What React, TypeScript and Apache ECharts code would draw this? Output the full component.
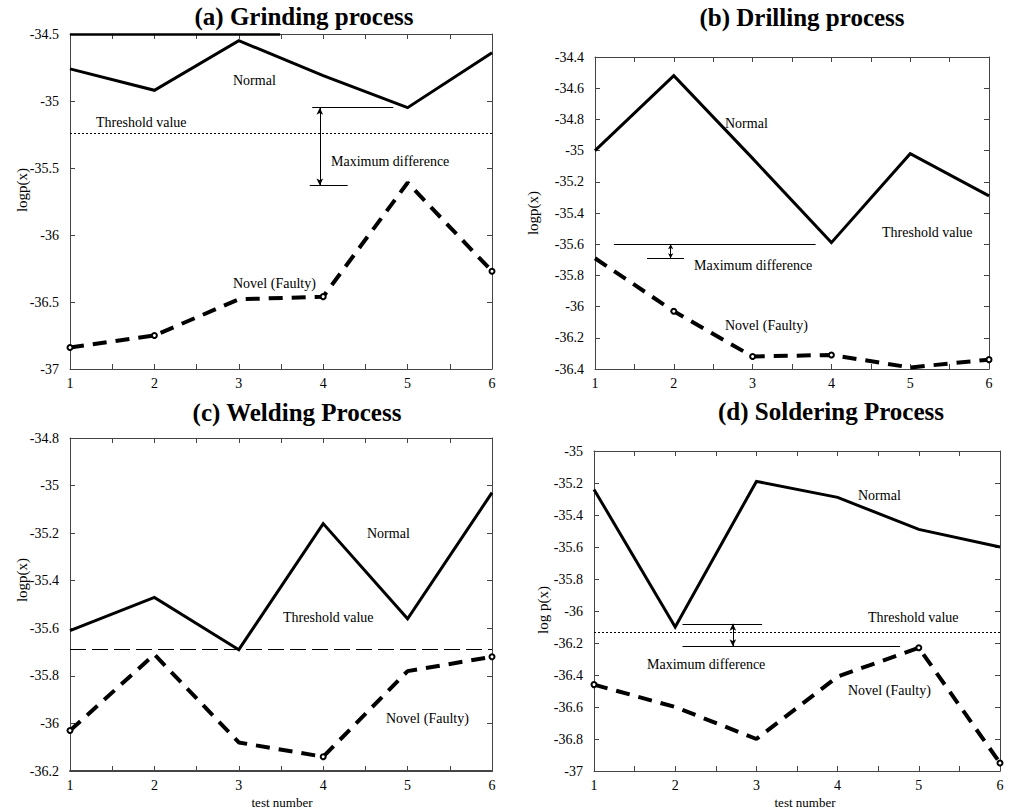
import React, { useEffect, useRef } from "react";
import * as echarts from "echarts";

const testNumbers = [1, 2, 3, 4, 5, 6];

const grindingNormal = [-34.76, -34.92, -34.55, -34.81, -35.05, -34.64];
const grindingNovel = [-36.84, -36.75, -36.48, -36.46, -35.61, -36.27];
const drillingNormal = [-35.0, -34.52, -35.05, -35.59, -35.02, -35.29];
const drillingNovel = [-35.69, -36.03, -36.32, -36.31, -36.39, -36.34];
const weldingNormal = [-35.61, -35.47, -35.69, -35.16, -35.56, -35.03];
const weldingNovel = [-36.03, -35.71, -36.08, -36.14, -35.78, -35.72];
const solderingNormal = [-35.24, -36.1, -35.19, -35.29, -35.49, -35.6];
const solderingNovel = [-36.46, -36.6, -36.8, -36.41, -36.23, -36.95];

const grindingThreshold = -35.24;
const weldingThreshold = -35.69;
const solderingThreshold = -36.13;

// maximum-difference annotation levels [upper, lower]
const grindingDiff = [-35.05, -35.63];
const drillingDiff = [-35.6, -35.69];
const solderingDiff = [-36.08, -36.22];

const FONT = "Liberation Serif";

type Panel = {
  title: string;
  titlePos: [number, number];
  grid: { left: number; top: number; width: number; height: number };
  yMin: number;
  yMax: number;
  yInt: number;
  normal: number[];
  novel: number[];
  novelMarks: number[];
  yName: string;
  yNamePos: [number, number];
  xName?: [number, number];
  labels: { text: string; x: number; y: number }[];
  markLines: any[];
  bottomWidth?: number;
};

const seg = (x1: number, y1: number, x2: number, y2: number, extra: any = {}) => [
  { coord: [x1, y1], ...extra },
  { coord: [x2, y2] },
];

const thinLine = { color: "#000", width: 1, type: "solid" };

const panels: Panel[] = [
  {
    title: "(a) Grinding process",
    titlePos: [304, 16],
    grid: { left: 70, top: 34, width: 422, height: 335 },
    yMin: -37,
    yMax: -34.5,
    yInt: 0.5,
    normal: grindingNormal,
    novel: grindingNovel,
    novelMarks: [0, 1, 3, 5],
    yName: "logp(x)",
    yNamePos: [22, 190],
    labels: [
      { text: "Normal", x: 233, y: 80 },
      { text: "Threshold value", x: 96, y: 122 },
      { text: "Maximum difference", x: 331, y: 161 },
      { text: "Novel (Faulty)", x: 233, y: 283 },
    ],
    markLines: [
      { data: [seg(1, -34.5, 3.49, -34.5)], lineStyle: { color: "#000", width: 2.5, type: "solid" } },
      {
        data: [seg(testNumbers[0], grindingThreshold, testNumbers[5], grindingThreshold)],
        lineStyle: { color: "#000", width: 1, type: [2, 2] },
      },
      {
        data: [seg(3.87, grindingDiff[0], 4.83, grindingDiff[0]), seg(3.84, grindingDiff[1], 4.29, grindingDiff[1])],
        lineStyle: thinLine,
      },
      {
        data: [seg(3.96, grindingDiff[0], 3.96, grindingDiff[1])],
        lineStyle: thinLine,
        symbol: ["arrow", "arrow"],
        symbolSize: [5, 7],
      },
    ],
  },
  {
    title: "(b) Drilling process",
    titlePos: [802, 17],
    grid: { left: 595, top: 57, width: 394, height: 312 },
    yMin: -36.4,
    yMax: -34.4,
    yInt: 0.2,
    normal: drillingNormal,
    novel: drillingNovel,
    novelMarks: [1, 2, 3, 5],
    yName: "logp(x)",
    yNamePos: [533, 213],
    labels: [
      { text: "Normal", x: 725, y: 123 },
      { text: "Threshold value", x: 882, y: 232 },
      { text: "Maximum difference", x: 694, y: 265 },
      { text: "Novel (Faulty)", x: 725, y: 325 },
    ],
    markLines: [
      {
        data: [seg(1.24, drillingDiff[0], 3.8, drillingDiff[0]), seg(1.66, drillingDiff[1], 2.13, drillingDiff[1])],
        lineStyle: thinLine,
      },
      {
        data: [seg(1.96, drillingDiff[0], 1.96, drillingDiff[1])],
        lineStyle: thinLine,
        symbol: ["arrow", "arrow"],
        symbolSize: [4, 5],
      },
    ],
  },
  {
    title: "(c) Welding Process",
    titlePos: [297, 412],
    grid: { left: 70, top: 438, width: 422, height: 333 },
    yMin: -36.2,
    yMax: -34.8,
    yInt: 0.2,
    normal: weldingNormal,
    novel: weldingNovel,
    novelMarks: [0, 3, 5],
    yName: "logp(x)",
    yNamePos: [22, 580],
    xName: [282, 802],
    bottomWidth: 2,
    labels: [
      { text: "Normal", x: 367, y: 533 },
      { text: "Threshold value", x: 283, y: 617 },
      { text: "Novel (Faulty)", x: 386, y: 718 },
    ],
    markLines: [
      {
        data: [seg(testNumbers[0], weldingThreshold, testNumbers[5], weldingThreshold)],
        lineStyle: { color: "#000", width: 1, type: [16, 6] },
      },
    ],
  },
  {
    title: "(d) Soldering Process",
    titlePos: [831, 411],
    grid: { left: 594, top: 451, width: 406, height: 320 },
    yMin: -37,
    yMax: -35,
    yInt: 0.2,
    normal: solderingNormal,
    novel: solderingNovel,
    novelMarks: [0, 4, 5],
    yName: "log p(x)",
    yNamePos: [543, 610],
    xName: [805, 802],
    labels: [
      { text: "Normal", x: 858, y: 495 },
      { text: "Threshold value", x: 868, y: 617 },
      { text: "Maximum difference", x: 647, y: 664 },
      { text: "Novel (Faulty)", x: 848, y: 690 },
    ],
    markLines: [
      {
        data: [seg(testNumbers[0], solderingThreshold, testNumbers[5], solderingThreshold)],
        lineStyle: { color: "#000", width: 1, type: [2, 2] },
      },
      {
        data: [seg(2.09, solderingDiff[0], 3.07, solderingDiff[0]), seg(2.09, solderingDiff[1], 4.77, solderingDiff[1])],
        lineStyle: thinLine,
      },
      {
        data: [seg(2.71, solderingDiff[0], 2.71, solderingDiff[1])],
        lineStyle: thinLine,
        symbol: ["arrow", "arrow"],
        symbolSize: [5, 7],
      },
    ],
  },
];

export default function App() {
  const ref = useRef<HTMLDivElement>(null);
  useEffect(() => {
    if (!ref.current) return;
    const chart = echarts.init(ref.current, undefined, { renderer: "svg" });
    const grids: any[] = [];
    const xAxes: any[] = [];
    const yAxes: any[] = [];
    const series: any[] = [];
    const graphics: any[] = [];

    panels.forEach((p, gi) => {
      grids.push({ ...p.grid, containLabel: false });
      const axisLine = (w = 1) => ({ show: true, onZero: false, lineStyle: { color: "#444", width: w } });
      const xBase = {
        type: "value",
        gridIndex: gi,
        min: 1,
        max: 6,
        interval: 0.5,
        splitLine: { show: false },
        axisTick: { show: true, inside: true, length: 5, lineStyle: { color: "#444" } },
      };
      xAxes.push({
        ...xBase,
        position: "bottom",
        axisLine: axisLine(p.bottomWidth || 1),
        axisLabel: {
          show: true,
          margin: 7,
          fontFamily: FONT,
          fontSize: 14,
          color: "#000",
          formatter: (v: number) => (Number.isInteger(v) ? String(v) : ""),
        },
      });
      xAxes.push({ ...xBase, position: "top", axisLine: axisLine(), axisLabel: { show: false } });
      const yBase = {
        type: "value",
        gridIndex: gi,
        min: p.yMin,
        max: p.yMax,
        interval: p.yInt,
        splitLine: { show: false },
        axisTick: { show: true, inside: true, length: 5, lineStyle: { color: "#444" } },
      };
      yAxes.push({
        ...yBase,
        position: "left",
        axisLine: axisLine(),
        axisLabel: {
          show: true,
          margin: 11,
          fontFamily: FONT,
          fontSize: 14,
          color: "#000",
          formatter: (v: number) => String(Math.round(v * 10) / 10),
        },
      });
      yAxes.push({ ...yBase, position: "right", axisLine: axisLine(), axisLabel: { show: false } });

      const xi = gi * 2;
      series.push({
        type: "line",
        xAxisIndex: xi,
        yAxisIndex: xi,
        data: testNumbers.map((x, i) => [x, p.normal[i]]),
        showSymbol: false,
        symbol: "none",
        lineStyle: { color: "#000", width: 3, join: "miter" },
        z: 3,
      });
      series.push({
        type: "line",
        xAxisIndex: xi,
        yAxisIndex: xi,
        data: testNumbers.map((x, i) => ({
          value: [x, p.novel[i]],
          symbol: p.novelMarks.includes(i) ? "emptyCircle" : "none",
        })),
        symbolSize: 5,
        itemStyle: { color: "#000", borderColor: "#000", borderWidth: 1 },
        lineStyle: { color: "#000", width: 4, type: [14, 9], cap: "butt" },
        z: 3,
      });
      p.markLines.forEach((ml) => {
        series.push({
          type: "line",
          xAxisIndex: xi,
          yAxisIndex: xi,
          data: [],
          markLine: {
            silent: true,
            symbol: ml.symbol || "none",
            symbolSize: ml.symbolSize || 6,
            label: { show: false },
            lineStyle: ml.lineStyle,
            data: ml.data,
          },
          z: 2,
        });
      });

      graphics.push({
        type: "text",
        x: p.titlePos[0],
        y: p.titlePos[1],
        style: {
          text: p.title,
          fontFamily: FONT,
          fontWeight: "bold",
          fontSize: 25,
          fill: "#000",
          align: "center",
          verticalAlign: "middle",
        },
      });
      graphics.push({
        type: "text",
        x: p.yNamePos[0],
        y: p.yNamePos[1],
        rotation: Math.PI / 2,
        style: {
          text: p.yName,
          fontFamily: FONT,
          fontSize: 15,
          fill: "#000",
          align: "center",
          verticalAlign: "middle",
        },
      });
      if (p.xName) {
        graphics.push({
          type: "text",
          x: p.xName[0],
          y: p.xName[1],
          style: {
            text: "test number",
            fontFamily: FONT,
            fontSize: 13,
            fill: "#000",
            align: "center",
            verticalAlign: "middle",
          },
        });
      }
      p.labels.forEach((l) => {
        graphics.push({
          type: "text",
          x: l.x,
          y: l.y,
          z: 10,
          style: {
            text: l.text,
            fontFamily: FONT,
            fontSize: 14,
            fill: "#000",
            align: "left",
            verticalAlign: "middle",
          },
        });
      });
    });

    chart.setOption({
      animation: false,
      backgroundColor: "#fff",
      grid: grids,
      xAxis: xAxes,
      yAxis: yAxes,
      series,
      graphic: graphics,
    });
    return () => chart.dispose();
  }, []);
  return (
    <div
      ref={ref}
      style={{ position: "fixed", left: 0, top: 0, width: 1011, height: 811, background: "#fff" }}
    />
  );
}
